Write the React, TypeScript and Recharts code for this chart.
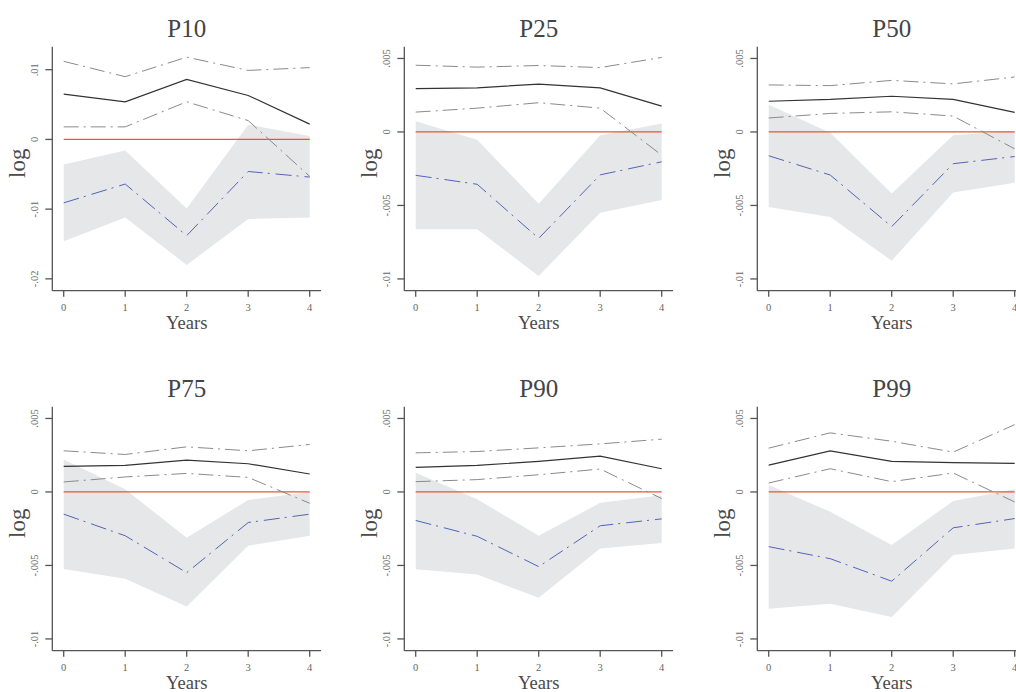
import React from 'react';
import { ComposedChart, Line, Area, XAxis, YAxis, ReferenceLine } from 'recharts';

const years = [0, 1, 2, 3, 4];
const titles = ['P10', 'P25', 'P50', 'P75', 'P90', 'P99'];

const bigTicks = [-0.02, -0.01, 0, 0.01];
const smallTicks = [-0.01, -0.005, 0, 0.005];
const bigDomain = [-0.0217, 0.0133];
const smallDomain = [-0.0108, 0.0058];

// P10
const p10Est = [0.0065, 0.0054, 0.0086, 0.0063, 0.0022];
const p10Up = [0.0112, 0.009, 0.0118, 0.0099, 0.0103];
const p10Dn = [0.0018, 0.0018, 0.0054, 0.0027, -0.0053];
const p10Blue = [-0.0091, -0.0064, -0.0138, -0.0046, -0.0054];
const p10BandHi = [-0.0036, -0.0016, -0.0099, 0.0021, 0.0005];
const p10BandLo = [-0.0146, -0.0112, -0.018, -0.0114, -0.0112];

// P25
const p25Est = [0.00295, 0.003, 0.00326, 0.003, 0.00176];
const p25Up = [0.00454, 0.00441, 0.00452, 0.00438, 0.00507];
const p25Dn = [0.00135, 0.00162, 0.00199, 0.00162, -0.00158];
const p25Blue = [-0.00295, -0.00356, -0.00724, -0.00292, -0.00203];
const p25BandHi = [0.00073, -0.00053, -0.00489, -0.00023, 0.00057];
const p25BandLo = [-0.00662, -0.00662, -0.0098, -0.0055, -0.00463];

// P50
const p50Est = [0.00209, 0.00221, 0.00243, 0.00221, 0.00133];
const p50Up = [0.0032, 0.00315, 0.00351, 0.00327, 0.00374];
const p50Dn = [0.00095, 0.00126, 0.00137, 0.00108, -0.00115];
const p50Blue = [-0.00162, -0.00293, -0.00644, -0.00216, -0.00167];
const p50BandHi = [0.00185, -0.00005, -0.00419, -0.00023, 0.00009];
const p50BandLo = [-0.00511, -0.00579, -0.00876, -0.00412, -0.00345];

// P75
const p75Est = [0.00174, 0.00181, 0.00217, 0.00192, 0.00122];
const p75Up = [0.0028, 0.00255, 0.00307, 0.0028, 0.00323];
const p75Dn = [0.00068, 0.00102, 0.00126, 0.00099, -0.00077];
const p75Blue = [-0.00151, -0.00298, -0.00549, -0.00208, -0.00151];
const p75BandHi = [0.00221, 0.00018, -0.00312, -0.00054, 0.0];
const p75BandLo = [-0.00524, -0.00591, -0.00779, -0.00366, -0.00298];

// P90
const p90Est = [0.00167, 0.00181, 0.00208, 0.00244, 0.00158];
const p90Up = [0.00266, 0.00275, 0.003, 0.00327, 0.00359];
const p90Dn = [0.0007, 0.00084, 0.00117, 0.00156, -0.00045];
const p90Blue = [-0.00194, -0.00302, -0.00508, -0.0023, -0.00183];
const p90BandHi = [0.00131, -0.0005, -0.00298, -0.00074, -0.00023];
const p90BandLo = [-0.00526, -0.00562, -0.0072, -0.00384, -0.00348];

// P99
const p99Est = [0.00183, 0.0028, 0.00208, 0.00199, 0.00194];
const p99Up = [0.00298, 0.00402, 0.00345, 0.00271, 0.00458];
const p99Dn = [0.00061, 0.00158, 0.0007, 0.00129, -0.00068];
const p99Blue = [-0.00372, -0.00454, -0.00607, -0.00244, -0.00181];
const p99BandHi = [0.00047, -0.00135, -0.00361, -0.00061, 0.00018];
const p99BandLo = [-0.00795, -0.00761, -0.00851, -0.00429, -0.00384];

const panels = [
  { title: titles[0], est: p10Est, up: p10Up, dn: p10Dn, blue: p10Blue, hi: p10BandHi, lo: p10BandLo, domain: bigDomain, ticks: bigTicks },
  { title: titles[1], est: p25Est, up: p25Up, dn: p25Dn, blue: p25Blue, hi: p25BandHi, lo: p25BandLo, domain: smallDomain, ticks: smallTicks },
  { title: titles[2], est: p50Est, up: p50Up, dn: p50Dn, blue: p50Blue, hi: p50BandHi, lo: p50BandLo, domain: smallDomain, ticks: smallTicks },
  { title: titles[3], est: p75Est, up: p75Up, dn: p75Dn, blue: p75Blue, hi: p75BandHi, lo: p75BandLo, domain: smallDomain, ticks: smallTicks },
  { title: titles[4], est: p90Est, up: p90Up, dn: p90Dn, blue: p90Blue, hi: p90BandHi, lo: p90BandLo, domain: smallDomain, ticks: smallTicks },
  { title: titles[5], est: p99Est, up: p99Up, dn: p99Dn, blue: p99Blue, hi: p99BandHi, lo: p99BandLo, domain: smallDomain, ticks: smallTicks },
];

const FONT = '"Liberation Serif", "Times New Roman", serif';
const AXIS = '#555';
const TICKTXT = '#666';

const fmt = (v: number) => {
  if (v === 0) return '0';
  const s = String(Math.abs(v)).replace(/^0/, '');
  return (v < 0 ? '-' : '') + s;
};

const XTick = (props: any) => {
  const { x, payload } = props;
  return (
    <text x={x} y={310.8} textAnchor="middle" fontSize={10.5} fill={TICKTXT} fontFamily={FONT}>
      {payload.value}
    </text>
  );
};

const YTick = (props: any) => {
  const { y, payload } = props;
  const x = 38;
  return (
    <text x={x} y={y} transform={`rotate(-90 ${x} ${y})`} textAnchor="middle" fontSize={10.5} fill={TICKTXT} fontFamily={FONT}>
      {fmt(payload.value)}
    </text>
  );
};

function PanelChart({ p, left, top }: { p: any; left: number; top: number }) {
  const data = years.map((yr, i) => ({
    year: yr,
    est: p.est[i],
    up: p.up[i],
    dn: p.dn[i],
    blue: p.blue[i],
    band: [p.lo[i], p.hi[i]],
  }));
  return (
    <div style={{ position: 'absolute', left, top, width: 340, height: 340 }}>
      <ComposedChart width={340} height={340} data={data} margin={{ top: 46.7, right: 19, bottom: 0, left: 0 }}>
        <XAxis
          dataKey="year"
          type="number"
          domain={[0, 4]}
          ticks={years}
          interval={0}
          padding={{ left: 11.4, right: 11.3 }}
          height={49.3}
          axisLine={{ stroke: AXIS, strokeWidth: 1.3 }}
          tickLine={{ stroke: AXIS, strokeWidth: 1.3 }}
          tickSize={6}
          tick={<XTick />}
        />
        <YAxis
          type="number"
          domain={p.domain}
          ticks={p.ticks}
          interval={0}
          allowDataOverflow
          width={52.3}
          axisLine={{ stroke: AXIS, strokeWidth: 1.3 }}
          tickLine={{ stroke: AXIS, strokeWidth: 1.3 }}
          tickSize={7}
          tick={<YTick />}
        />
        <Area dataKey="band" type="linear" fill="#e6e7e9" fillOpacity={1} stroke="none" isAnimationActive={false} dot={false} activeDot={false} />
        <ReferenceLine segment={[{ x: 0, y: 0 }, { x: 4, y: 0 }]} stroke="#e8553f" strokeWidth={1.3} />
        <Line dataKey="up" type="linear" stroke="#8a8a8a" strokeWidth={1} strokeDasharray="15 5 2 5" dot={false} activeDot={false} isAnimationActive={false} />
        <Line dataKey="dn" type="linear" stroke="#8a8a8a" strokeWidth={1} strokeDasharray="15 5 2 5" dot={false} activeDot={false} isAnimationActive={false} />
        <Line dataKey="blue" type="linear" stroke="#5263b8" strokeWidth={1} strokeDasharray="16 5 2 6" dot={false} activeDot={false} isAnimationActive={false} />
        <Line dataKey="est" type="linear" stroke="#333" strokeWidth={1.2} dot={false} activeDot={false} isAnimationActive={false} />
      </ComposedChart>
      <svg width={340} height={340} style={{ position: 'absolute', left: 0, top: 0, pointerEvents: 'none' }}>
        <text x={186.7} y={36.7} textAnchor="middle" fontSize={25} fill="#444" fontFamily={FONT}>{p.title}</text>
        <text x={186.7} y={328.6} textAnchor="middle" fontSize={18.5} fill="#4a4a4a" fontFamily={FONT}>Years</text>
        <text x={25} y={163.3} transform="rotate(-90 25 163.3)" textAnchor="middle" fontSize={23} fill="#4a4a4a" fontFamily={FONT}>log</text>
      </svg>
    </div>
  );
}

export default function App() {
  return (
    <div style={{ position: 'absolute', left: 0, top: 0, width: 1016, height: 692, overflow: 'hidden', background: '#fff' }}>
      {panels.map((p, i) => (
        <PanelChart key={p.title} p={p} left={(i % 3) * 352.35} top={Math.floor(i / 3) * 360} />
      ))}
    </div>
  );
}
